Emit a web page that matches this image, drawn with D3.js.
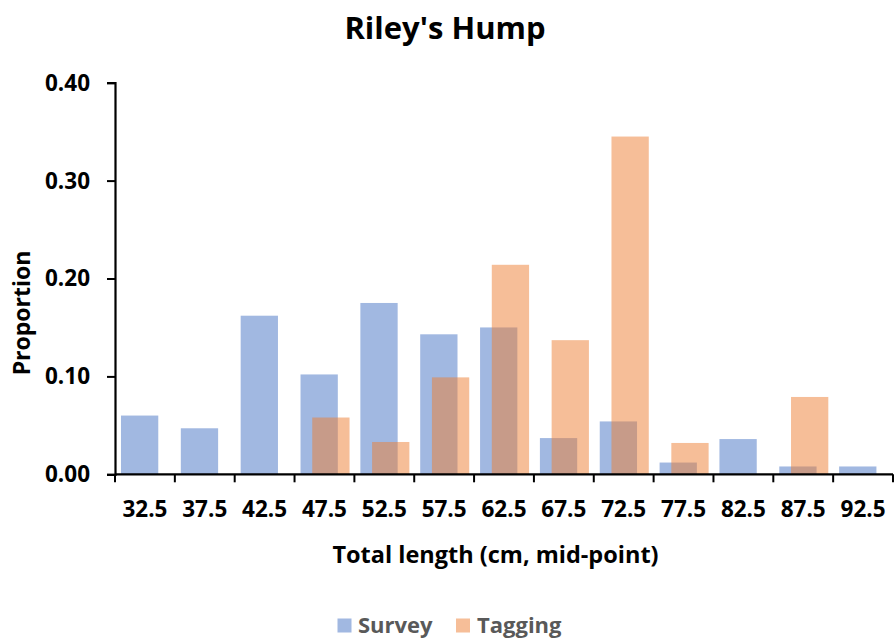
<!DOCTYPE html>
<html>
<head>
<meta charset="utf-8">
<script src="https://cdn.jsdelivr.net/npm/d3@7/dist/d3.min.js"></script>
<style>
  html, body { margin: 0; padding: 0; background: #fff; }
  svg { display: block; }
  text { font-family: "Open Sans", "Noto Sans", sans-serif; font-weight: bold; }
</style>
</head>
<body>
<div id="chart"></div>
<script>
// Length classes (cm, mid-point)
const categories = ["32.5", "37.5", "42.5", "47.5", "52.5", "57.5", "62.5",
                    "67.5", "72.5", "77.5", "82.5", "87.5", "92.5"];
// Proportion of fish in each length class
const survey  = [0.060, 0.047, 0.162, 0.102, 0.175, 0.143, 0.150,
                 0.037, 0.054, 0.012, 0.036, 0.008, 0.008];
const tagging = [0.000, 0.000, 0.000, 0.058, 0.033, 0.099, 0.214,
                 0.137, 0.345, 0.032, 0.000, 0.079, 0.000];
const yTicks = [0, 0.1, 0.2, 0.3, 0.4];
const seriesNames = ["Survey", "Tagging"];

const W = 894, H = 639;
const margin = { left: 115, right: 1, top: 82.7, bottom: 164.7 };

const svg = d3.select("#chart").append("svg")
  .attr("width", W).attr("height", H);

const x = d3.scaleBand()
  .domain(categories)
  .range([margin.left, W - margin.right])
  .paddingInner(0).paddingOuter(0);

const y = d3.scaleLinear()
  .domain([0, 0.4])
  .range([H - margin.bottom, margin.top]);

const colors = { Survey: "#4472C4", Tagging: "#ED7D31" };

// Bars sit in overlapping positions inside each length class
const bw = x.bandwidth();
const barW = bw * 0.623;
const offsets = { Survey: bw * 0.10, Tagging: bw * 0.296 };

const series = [
  { name: seriesNames[0], values: survey },
  { name: seriesNames[1], values: tagging }
];

series.forEach(s => {
  svg.append("g")
    .selectAll("rect")
    .data(s.values.map((v, i) => ({ cat: categories[i], v })))
    .join("rect")
    .attr("x", d => x(d.cat) + offsets[s.name])
    .attr("width", barW)
    .attr("y", d => y(d.v))
    .attr("height", d => y(0) - y(d.v))
    .attr("fill", colors[s.name])
    .attr("fill-opacity", 0.5);
});

// X axis: ticks between classes
const xAxisG = svg.append("g")
  .attr("transform", `translate(0,${y(0)})`);
xAxisG.append("line")
  .attr("x1", x.range()[0]).attr("x2", x.range()[1])
  .attr("stroke", "#000").attr("stroke-width", 2.2);
const bounds = categories.map(c => x(c)).concat([x.range()[1]]);
xAxisG.selectAll("line.tick")
  .data(bounds)
  .join("line")
  .attr("class", "tick")
  .attr("x1", d => d).attr("x2", d => d)
  .attr("y1", 0).attr("y2", 8)
  .attr("stroke", "#000").attr("stroke-width", 2);
xAxisG.selectAll("text")
  .data(categories)
  .join("text")
  .attr("x", d => x(d) + bw / 2)
  .attr("y", 42.4)
  .attr("text-anchor", "middle")
  .attr("font-size", 22.5)
  .attr("fill", "#000")
  .text(d => d);

// Y axis
const yAxis = d3.axisLeft(y)
  .tickValues(yTicks)
  .tickFormat(d3.format(".2f"))
  .tickSize(8)
  .tickPadding(17);
const yAxisG = svg.append("g")
  .attr("transform", `translate(${margin.left},0)`)
  .call(yAxis);
yAxisG.select(".domain").attr("stroke", "#000").attr("stroke-width", 2.2);
yAxisG.selectAll(".tick line").attr("stroke", "#000").attr("stroke-width", 2);
yAxisG.selectAll(".tick text")
  .attr("font-size", 22.5)
  .attr("font-family", "'Open Sans', sans-serif")
  .attr("font-weight", "bold")
  .attr("dy", "0.33em")
  .attr("fill", "#000");

// Title and axis titles
svg.append("text")
  .attr("x", 445).attr("y", 38.5)
  .attr("text-anchor", "middle")
  .attr("font-size", 31)
  .attr("fill", "#000")
  .text("Riley's Hump");

svg.append("text")
  .attr("x", 495.5).attr("y", 563)
  .attr("text-anchor", "middle")
  .attr("font-size", 23.5)
  .attr("fill", "#000")
  .text("Total length (cm, mid-point)");

svg.append("text")
  .attr("transform", "translate(29.5,313) rotate(-90)")
  .attr("text-anchor", "middle")
  .attr("font-size", 23)
  .attr("fill", "#000")
  .text("Proportion");

// Legend
const legend = svg.append("g");
const legendItems = [
  { name: seriesNames[0], sx: 337.5, tx: 358 },
  { name: seriesNames[1], sx: 456, tx: 477 }
];
legendItems.forEach(it => {
  legend.append("rect")
    .attr("x", it.sx).attr("y", 618.5)
    .attr("width", 14).attr("height", 14)
    .attr("fill", colors[it.name]).attr("fill-opacity", 0.5);
  legend.append("text")
    .attr("x", it.tx).attr("y", 633)
    .attr("font-size", 22)
    .attr("fill", "#595959")
    .text(it.name);
});
</script>
</body>
</html>
